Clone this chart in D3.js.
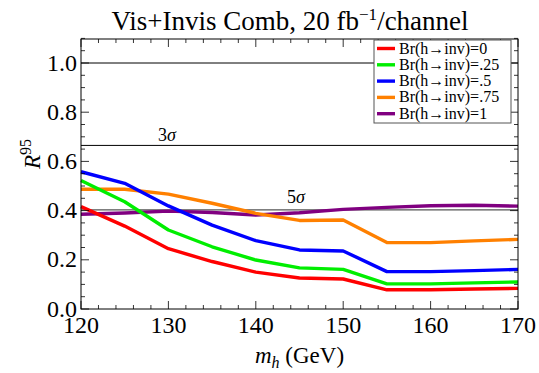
<!DOCTYPE html>
<html>
<head>
<meta charset="utf-8">
<script src="https://cdn.jsdelivr.net/npm/d3@7/dist/d3.min.js"></script>
<style>
  html, body { margin: 0; padding: 0; background: #fff; }
  svg { display: block; }
</style>
</head>
<body>
<svg id="chart" width="539" height="373"></svg>
<script>
// Higgs mass points (GeV)
const masses = [120, 125, 130, 135, 140, 145, 150, 155, 160, 165, 170];

// R^95 limits for each invisible branching ratio
const br0   = [0.416, 0.337, 0.245, 0.193, 0.150, 0.126, 0.122, 0.078, 0.078, 0.081, 0.084];
const br25  = [0.522, 0.436, 0.321, 0.253, 0.199, 0.167, 0.161, 0.102, 0.102, 0.106, 0.110];
const br50  = [0.558, 0.511, 0.419, 0.341, 0.278, 0.240, 0.236, 0.152, 0.152, 0.156, 0.161];
const br75  = [0.487, 0.487, 0.467, 0.430, 0.389, 0.360, 0.362, 0.270, 0.270, 0.277, 0.283];
const br100 = [0.385, 0.390, 0.398, 0.392, 0.382, 0.391, 0.405, 0.413, 0.420, 0.422, 0.418];

const seriesLabels = ["Br(h\u2192inv)=0", "Br(h\u2192inv)=.25", "Br(h\u2192inv)=.5", "Br(h\u2192inv)=.75", "Br(h\u2192inv)=1"];
const seriesColors = ["#ff0000", "#00ee00", "#0000ff", "#ff8000", "#800080"];
const seriesValues = [br0, br25, br50, br75, br100];

// Reference levels: R = 1, 3 sigma, 5 sigma
const refLevels = [1.0, 0.665, 0.403];

const xTicks = [120, 130, 140, 150, 160, 170];
const yTicks = [0.0, 0.2, 0.4, 0.6, 0.8, 1.0];

const svg = d3.select("#chart");
const plotLeft = 81, plotRight = 518, plotTop = 39, plotBottom = 309;

const x = d3.scaleLinear().domain([120, 170]).range([plotLeft, plotRight]);
const y = d3.scaleLinear().domain([0, 1.1]).range([plotBottom, plotBottom - 1.1 * 246]);

// Title
const title = svg.append("text")
  .attr("x", 290).attr("y", 30)
  .attr("text-anchor", "middle")
  .style("font-size", "27px");
title.append("tspan").text("Vis+Invis Comb, 20 fb");
title.append("tspan").attr("dy", -10).style("font-size", "17px").text("\u22121");
title.append("tspan").attr("dy", 10).text("/channel");

// Reference lines
const g = svg.append("g");
g.selectAll("line.ref").data(refLevels).join("line")
  .attr("class", "ref")
  .attr("x1", plotLeft).attr("x2", plotRight)
  .attr("y1", d => y(d)).attr("y2", d => y(d))
  .attr("stroke", (d, i) => i === 2 ? "#555" : "#000")
  .attr("stroke-width", (d, i) => i === 2 ? 1.4 : 1);

// Sigma annotations
const sig3 = svg.append("text").attr("x", 158).attr("y", y(refLevels[1]) - 4)
  .style("font-size", "18px");
sig3.append("tspan").text("3");
sig3.append("tspan").style("font-style", "italic").text("\u03c3");
const sig5 = svg.append("text").attr("x", 287).attr("y", y(refLevels[2]) - 7)
  .style("font-size", "18px");
sig5.append("tspan").text("5");
sig5.append("tspan").style("font-style", "italic").text("\u03c3");

// Data lines
const line = d3.line().x((d, i) => x(masses[i])).y(d => y(d));
const order = [4, 3, 2, 1, 0];
svg.append("g").selectAll("path").data(order).join("path")
  .attr("d", k => line(seriesValues[k]))
  .attr("fill", "none")
  .attr("stroke", k => seriesColors[k])
  .attr("stroke-width", 3.4)
  .attr("stroke-linejoin", "round");

// Frame with inward ticks
const frame = svg.append("g");
frame.append("rect").attr("x", plotLeft).attr("y", plotTop)
  .attr("width", plotRight - plotLeft).attr("height", plotBottom - plotTop)
  .attr("fill", "none").attr("stroke", "#000").attr("stroke-width", 1);

const xMinor = d3.range(120, 170.01, 2);
const yMinor = d3.range(0, 1.101, 0.05);
const tickColor = "#000";
xMinor.forEach(v => {
  const major = v % 10 === 0;
  const len = major ? 8 : 4;
  frame.append("line").attr("x1", x(v)).attr("x2", x(v))
    .attr("y1", plotBottom).attr("y2", plotBottom - len).attr("stroke", tickColor).attr("stroke-width", 0.8);
  frame.append("line").attr("x1", x(v)).attr("x2", x(v))
    .attr("y1", plotTop).attr("y2", plotTop + len).attr("stroke", tickColor).attr("stroke-width", 0.8);
});
yMinor.forEach(v => {
  const major = Math.abs(v * 5 - Math.round(v * 5)) < 1e-6;
  const len = major ? 8 : 4;
  frame.append("line").attr("x1", plotLeft).attr("x2", plotLeft + len)
    .attr("y1", y(v)).attr("y2", y(v)).attr("stroke", tickColor).attr("stroke-width", 0.8);
  frame.append("line").attr("x1", plotRight).attr("x2", plotRight - len)
    .attr("y1", y(v)).attr("y2", y(v)).attr("stroke", tickColor).attr("stroke-width", 0.8);
});

// Tick labels
svg.append("g").selectAll("text").data(xTicks).join("text")
  .attr("x", d => x(d)).attr("y", plotBottom + 24)
  .attr("text-anchor", "middle").style("font-size", "24px")
  .text(d => d);
svg.append("g").selectAll("text").data(yTicks).join("text")
  .attr("x", plotLeft - 4).attr("y", d => y(d) + 7.5)
  .attr("text-anchor", "end").style("font-size", "24px")
  .text(d => d.toFixed(1));

// Axis titles
const xt = svg.append("text").attr("x", x(145)).attr("y", 363)
  .attr("text-anchor", "middle").style("font-size", "23px");
xt.append("tspan").style("font-style", "italic").text("m");
xt.append("tspan").style("font-style", "italic").attr("dy", 5).style("font-size", "16px").text("h");
xt.append("tspan").attr("dy", -5).text(" (GeV)");

const yt = svg.append("text")
  .attr("transform", `translate(40, 154) rotate(-90)`)
  .attr("text-anchor", "middle").style("font-size", "23px");
yt.append("tspan").style("font-style", "italic").text("R");
yt.append("tspan").attr("dy", -9).style("font-size", "16px").text("95");

// Legend
const lg = svg.append("g").attr("transform", "translate(374, 40)");
lg.append("rect").attr("width", 137).attr("height", 83)
  .attr("fill", "#fff").attr("stroke", "#555").attr("stroke-width", 1);
seriesLabels.forEach((lab, i) => {
  const yy = 8.5 + i * 16.3;
  lg.append("line").attr("x1", 3).attr("x2", 21).attr("y1", yy).attr("y2", yy)
    .attr("stroke", seriesColors[i]).attr("stroke-width", 3.4);
  lg.append("text").attr("x", 25).attr("y", yy + 5).style("font-size", "16px").text(lab);
});

svg.selectAll("text").style("font-family", "\"Liberation Serif\"").attr("fill", "#000");
</script>
</body>
</html>
